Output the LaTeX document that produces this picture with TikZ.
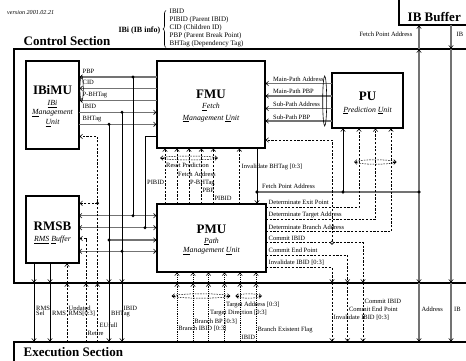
\documentclass[tikz,border=0pt]{standalone}
\usepackage{fontspec}
\setmainfont{Liberation Serif}
\usetikzlibrary{arrows.meta,calc,decorations.pathreplacing}
\begin{document}
\begin{tikzpicture}[x=1pt,y=-1pt,
  >={Straight Barb[length=2.4pt,width=4.6pt,line width=0.6pt,color=black]},
  box/.style={draw,line width=1.4pt,fill=white,inner sep=0pt,outer sep=0pt},
  ttl/.style={font=\fontsize{13}{15}\selectfont\bfseries,inner sep=0pt,anchor=base},
  subt/.style={font=\fontsize{7.8}{9}\selectfont\itshape,inner sep=0pt,anchor=base},
  lbl/.style={font=\fontsize{6.5}{7}\selectfont,inner sep=0pt,anchor=base west},
  lst/.style={font=\fontsize{7}{8}\selectfont,inner sep=0pt,anchor=base west},
  bus/.style={draw=black!55,line width=1.1pt,shorten >=0.7pt},
  wire/.style={draw=black,line width=0.6pt,shorten >=0.7pt},
  dwire/.style={draw=black,line width=0.6pt,dash pattern=on 2.2pt off 1.5pt,shorten >=0.7pt},
  owire/.style={draw=black,line width=0.6pt,dash pattern=on 0.7pt off 1.1pt,shorten >=0.7pt},
  ebus/.style={draw=black,line width=0.5pt,dash pattern=on 1.6pt off 1.1pt},
  jdot/.style={circle,fill=black,inner sep=0pt,minimum size=3.3pt},
  odot/.style={circle,draw=black,fill=white,line width=0.6pt,inner sep=0pt,minimum size=3.4pt},
  sect/.style={line width=1.7pt},
]
\fill[white] (0,0) rectangle (466,361);
\useasboundingbox (0,0) rectangle (466,361);

% reference rows
\coordinate (ctop) at (0,49);
\coordinate (cbot) at (0,283);
\coordinate (etop) at (0,342);
\coordinate (ibot) at (0,25);

% sections
\draw[sect] (470,49) -- (14,49) -- (14,283) -- (470,283);
\draw[sect] (470,342) -- (14,342) -- (14,366);
\draw[sect] (399,-5) -- (399,25) -- (470,25);

% header
\node[font=\fontsize{6.1}{7}\selectfont\itshape,anchor=base west,inner sep=0pt] (ver) at (7,15) {version 2001.02.21};
\node[font=\fontsize{8}{9}\selectfont\bfseries,anchor=base east,inner sep=0pt] (ibi) at (160.5,32.5) {IBi (IB info)};
\draw[line width=0.6pt,decorate,decoration={brace,amplitude=3pt}] (166,47.5) -- (166,10.5);
\node[lst] (l1) at (169.5,13.8) {IBID};
\node[lst] (l2) at (169.5,21.8) {PIBID (Parent IBID)};
\node[lst] (l3) at (169.5,29.8) {CID (Children ID)};
\node[lst] (l4) at (169.5,37.8) {PBP (Parent Break Point)};
\node[lst] (l5) at (169.5,45.6) {BHTag (Dependency Tag)};
\node[ttl,anchor=base west] (cs) at (23.5,45.5) {Control Section};
\node[ttl,anchor=base west] (es) at (23.5,356.5) {Execution Section};
\node[ttl,anchor=base west] (ibb) at (407.5,21.5) {IB Buffer};

% boxes
\node[box,minimum width=53pt,minimum height=88pt] (ibimu) at (52.5,105) {};
\node[box,minimum width=108pt,minimum height=87pt] (fmu) at (211,104.5) {};
\node[box,minimum width=71pt,minimum height=55pt] (pu) at (367.5,100.5) {};
\node[box,minimum width=53pt,minimum height=67pt] (rmsb) at (52.5,229.5) {};
\node[box,minimum width=109pt,minimum height=68pt] (pmu) at (211.5,238) {};

\node[ttl] (t1) at (52.5,95) {IBiMU};
\node[subt] (t1a) at (52.5,105.3) {\underline{IBi}};
\node[subt] (t1b) at (52.5,114.8) {\underline{M}anagement};
\node[subt] (t1c) at (52.5,124.8) {\underline{U}nit};
\node[ttl] (t2) at (211,98.3) {FMU};
\node[subt] (t2a) at (211,109) {\underline{F}etch};
\node[subt] (t2b) at (211,120) {\underline{M}anagement \underline{U}nit};
\node[ttl] (t3) at (367.5,100.5) {PU};
\node[subt] (t3a) at (367.5,112) {\underline{P}rediction \underline{U}nit};
\node[ttl] (t4) at (52.5,230) {RMSB};
\node[subt] (t4a) at (52.5,241.5) {\underline{RMS} \underline{B}uffer};
\node[ttl] (t5) at (211.5,233) {PMU};
\node[subt] (t5a) at (211.5,243) {\underline{P}ath};
\node[subt] (t5b) at (211.5,252.5) {\underline{M}anagement \underline{U}nit};

% ---------- IBiMU <-> FMU ----------
\draw[bus,->] (fmu.west |- 0,77) -- (ibimu.east |- 0,77);
\draw[bus,->] (fmu.west |- 0,88.4) -- (ibimu.east |- 0,88.4);
\draw[bus,->] (fmu.west |- 0,100.3) -- (ibimu.east |- 0,100.3);
\draw[bus,->] (ibimu.east |- 0,112.3) -- (fmu.west |- 0,112.3);
\draw[bus,->] (ibimu.east |- 0,124.3) -- (fmu.west |- 0,124.3);
\draw[line width=0.5pt] (81.6,88.6) ellipse [x radius=1.7pt, y radius=13pt];
\node[lbl] (lPBP) at (82.5,73.5) {PBP};
\node[lbl] (lCID) at (82.5,84.9) {CID};
\node[lbl] (lPBH) at (82.5,96.8) {P-BHTag};
\node[lbl] (lIBID) at (82.5,108.8) {IBID};
\node[lbl] (lBHT) at (82.5,120.8) {BHTag};

% junctions on the left
\coordinate (d1) at (133,77);
\coordinate (d2) at (122,112.3);
\coordinate (d3) at (109,124.3);
\coordinate (d4) at (133,215.7);
\coordinate (d5) at (145,227.7);
\coordinate (d6) at (109,240);
\coordinate (d7) at (122,251.3);
\coordinate (d8) at (97.5,203.3);

% RMSB <-> PMU buses
\draw[bus,<->] (rmsb.east |- d4) -- (pmu.west |- d4);
\draw[bus,<->] (rmsb.east |- d5) -- (pmu.west |- d5);
\draw[bus,->] (d6) -- (pmu.west |- d6);
\draw[bus,<->] (rmsb.east |- d7) -- (pmu.west |- d7);

% verticals
\draw[wire] (d1) -- (d4);
\draw[wire] (fmu.west |- 0,136.7) -| (d5);
\node[lbl] (lPIB) at (147,184.7) {PIBID};
\draw[wire,->] (d3) -- (d3 |- cbot);
\draw[wire,->] (d3 |- cbot) -- (d3 |- etop);
\draw[wire,->] (d2) -- (d2 |- cbot);
\draw[wire,->] (d2 |- cbot) -- (d2 |- etop);

% EUfull / Retire / Updated RMS / RMS Sel / RMS
\draw[dwire,->] (d8 |- etop) -- (d8 |- cbot);
\draw[dwire,->] (d8 |- cbot) -- (d8 |- 0,136.5) -- (ibimu.east |- 0,136.5);
\draw[dwire,->] (d8) -- (rmsb.east |- d8);
\draw[dwire,->] (86,342) -- (86,283);
\draw[dwire,->] (86,283) -- (86,238.5) -- (rmsb.east |- 0,238.5);
\draw[dwire,->] (67,342) -- (67,283);
\draw[dwire,->] (67,283) -- (rmsb.south -| 67,0);
\draw[wire,->] (rmsb.south -| 34,0) -- (34,283);
\draw[wire,->] (34,283) -- (34,342);
\draw[wire,->] (rmsb.south -| 50,0) -- (50,283);
\draw[wire,->] (50,283) -- (50,342);

\foreach \p in {d1,d2,d3,d4,d5,d6,d7,d8} \fill (\p) circle [radius=1.65pt];

% ---------- FMU <-> PMU ----------
\foreach \xx in {165,177,189,201.3,213.3,239.3}
  \draw[dwire,->] (pmu.north -| \xx,0) -- (fmu.south -| \xx,0);
\coordinate (be1) at (189,158);
\draw[ebus] (be1) ellipse [x radius=27pt, y radius=2pt];
\draw[wire,->] ($(be1)+(25.5,0)$) -- ($(be1)+(29.5,0)$);
\draw[wire,->] ($(be1)+(-25.5,0)$) -- ($(be1)+(-29.5,0)$);
\node[lbl] (lRP) at (166,167.3) {Reset Prediction};
\node[lbl] (lFA) at (178,176) {Fetch Address};
\node[lbl] (lPB2) at (190,184.7) {P-BHTag};
\node[lbl] (lPBP2) at (202.3,192.8) {PBP};
\node[lbl] (lPI2) at (214.3,200.7) {PIBID};
\node[lbl] (lIBH) at (241.5,168) {Invalidate BHTag [0:3]};

\node[jdot] (d9) at (257,192) {};
\node[jdot] (d10) at (343,192) {};
\node[jdot] (d11) at (419,192) {};
\draw[wire,->] (fmu.south -| d9) -- (pmu.north -| d9);
\draw[bus] (d9.center) -- (d11.center);
\node[lbl] (lFPA) at (262,188) {Fetch Point Address};
\draw[wire,->] (d10.center) -- (pu.south -| d10);
\node[jdot] at (d9) {};
\node[jdot] at (d10) {};

% ---------- PU <-> FMU ----------
\draw[bus,->] (pu.west |- 0,83.5) -- (fmu.east |- 0,83.5);
\draw[bus,->] (pu.west |- 0,96) -- (fmu.east |- 0,96);
\draw[bus,->] (pu.west |- 0,108.5) -- (fmu.east |- 0,108.5);
\draw[bus,->] (pu.west |- 0,121) -- (fmu.east |- 0,121);
\draw[line width=0.6pt] (324.7,101) ellipse [x radius=2pt, y radius=25pt];
\node[lbl] (lMPA) at (273,81.5) {Main-Path Address};
\node[lbl] (lMPP) at (273,94) {Main-Path PBP};
\node[lbl] (lSPA) at (273,106.5) {Sub-Path Address};
\node[lbl] (lSPP) at (273,119) {Sub-Path PBP};

% ---------- PMU right side ----------
\draw[dwire,->] (pmu.east |- 0,207.3) -| (pu.south -| 359,0);
\draw[dwire,->] (pmu.east |- 0,219.5) -| (pu.south -| 375.5,0);
\draw[dwire,->] (pmu.east |- 0,231.7) -| (pu.south -| 391,0);
\coordinate (be2) at (375.3,162);
\draw[ebus] (be2) ellipse [x radius=19.5pt, y radius=2.2pt];
\draw[wire,->] ($(be2)+(18,0)$) -- ($(be2)+(22,0)$);
\draw[wire,->] ($(be2)+(-18,0)$) -- ($(be2)+(-22,0)$);

\draw[dwire,->] (pmu.east |- 0,242.7) -| (363,283);
\draw[dwire,->] (363,283) -- (363,342);
\draw[dwire,->] (pmu.east |- 0,255.3) -| (347.5,283);
\draw[dwire,->] (347.5,283) -- (347.5,342);
\draw[dwire,->] (pmu.east |- 0,267.3) -| (332,283);
\draw[dwire,->] (332,283) -- (332,342);
\node[odot] (d12) at (332,242.7) {};
\draw[dwire,->] (d12.north) |- (fmu.east |- 0,140);
\node[lbl] (lDEP) at (268.5,204.8) {Determinate Exit Point};
\node[lbl] (lDTA) at (268.5,216.9) {Determinate Target Address};
\node[lbl] (lDBA) at (268.5,229) {Determinate Branch Address};
\node[lbl] (lCI) at (268.5,240.1) {Commit IBID};
\node[lbl] (lCEP) at (268.5,252.6) {Commit End Point};
\node[lbl] (lII) at (268.5,264.6) {Invalidate IBID [0:3]};

% ---------- IB Buffer columns ----------
\draw[bus,->] (d11.center) -- (d11 |- ctop);
\draw[bus,->] (d11 |- ctop) -- (d11 |- ibot);
\draw[bus,->] (d11.center) -- (d11 |- cbot);
\draw[bus,->] (d11 |- cbot) -- (d11 |- etop);
\node[jdot] at (d11) {};
\coordinate (ibc) at (451,25);
\draw[bus,->] (ibc) -- (ibc |- ctop);
\draw[bus,->] (ibc |- ctop) -- (ibc |- cbot);
\draw[bus,->] (ibc |- cbot) -- (ibc |- etop);
\node[lbl,anchor=base east] (lFPA2) at (412.5,37) {Fetch Point Address};
\node[lbl] (lIB1) at (456.5,37) {IB};
\node[lbl] (lADR) at (421.5,311) {Address};
\node[lbl] (lIB2) at (454,311) {IB};

% ---------- PMU bottom ----------
\foreach \xx in {177,193,208.5,224.5,240,256} {
  \draw[owire,->] (\xx,342) -- (\xx,283);
  \draw[owire,->] (\xx,283) -- (pmu.south -| \xx,0);
}
\coordinate (be3) at (201,296);
\draw[ebus] (be3) ellipse [x radius=27.5pt, y radius=2.2pt];
\draw[wire,->] ($(be3)+(26,0)$) -- ($(be3)+(30,0)$);
\draw[wire,->] ($(be3)+(-26,0)$) -- ($(be3)+(-30,0)$);
\coordinate (be4) at (248.7,296);
\draw[ebus] (be4) ellipse [x radius=11.5pt, y radius=2.2pt];
\draw[wire,->] ($(be4)+(10,0)$) -- ($(be4)+(14,0)$);
\draw[wire,->] ($(be4)+(-10,0)$) -- ($(be4)+(-14,0)$);

% ---------- bottom labels ----------
\node[lbl] (bRMS1) at (36,310.5) {RMS};
\node[lbl] (bSel) at (36,315.5) {Sel};
\node[lbl] (bRMS2) at (52,315.5) {RMS};
\node[lbl] (bUpd) at (68.5,310.5) {Updated};
\node[lbl] (bUpd2) at (68.5,315.5) {RMS[0:3]};
\node[lbl] (bEU) at (99.5,327.7) {EUfull};
\node[lbl] (bRet) at (87.5,335.2) {Retire};
\node[lbl] (bBHT) at (111,315.8) {BHTag};
\node[lbl] (bIBID) at (123.5,310.5) {IBID};
\node[lbl] (bTA) at (225.8,306.6) {Target Address [0:3]};
\node[lbl] (bTD) at (209.8,314.6) {Target Direction [0:3]};
\node[lbl] (bBBP) at (194.2,323.2) {Branch BP [0:3]};
\node[lbl] (bBI) at (178.2,330.8) {Branch IBID [0:3]};
\node[lbl] (bBEF) at (257.5,331.3) {Branch Existent Flag};
\node[lbl] (bIBID2) at (241.5,339.6) {IBID};
\node[lbl] (bCI) at (364.5,303.6) {Commit IBID};
\node[lbl] (bCEP) at (348.8,311.5) {Commit End Point};
\node[lbl] (bII) at (333.5,319.7) {Invalidate IBID [0:3]};
\end{tikzpicture}
\end{document}
